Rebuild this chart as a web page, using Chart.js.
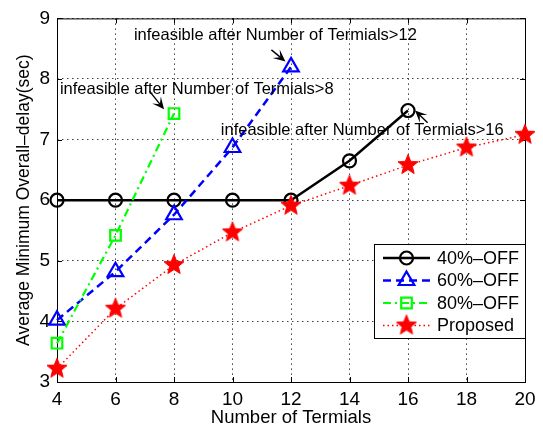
<!DOCTYPE html>
<html>
<head>
<meta charset="utf-8">
<script src="https://cdn.jsdelivr.net/npm/chart.js@4.4.0/dist/chart.umd.min.js"></script>
<style>
  html, body { margin: 0; padding: 0; background: #fff; }
</style>
</head>
<body>
<canvas id="delayChart" width="543" height="430"></canvas>
<script>
// number of terminals on the x axis
const terminals = [4, 6, 8, 10, 12, 14, 16, 18, 20];

// average minimum overall delay (sec) per scheme
const off40 = [6, 6, 6, 6, 6, 6.65, 7.48];
const off60 = [4.02, 4.82, 5.76, 6.87, 8.2];
const off80 = [3.64, 5.42, 7.43];
const proposed = [3.22, 4.21, 4.93, 5.47, 5.91, 6.24, 6.58, 6.87, 7.08];

const seriesNames = ['40%–OFF', '60%–OFF', '80%–OFF', 'Proposed'];
const xTicks = [4, 6, 8, 10, 12, 14, 16, 18, 20];
const yTicks = [3, 4, 5, 6, 7, 8, 9];

// text notes: text anchor + arrow tail/head, all in data units
const notes = [
  { text: 'infeasible after Number of Termials>12', x: 6.63, y: 8.65, from: [11.33, 8.48], to: [11.81, 8.29] },
  { text: 'infeasible after Number of Termials>8', x: 4.10, y: 7.76, from: [7.16, 7.80], to: [7.66, 7.50] },
  { text: 'infeasible after Number of Termials>16', x: 9.60, y: 7.08, from: [16.67, 7.28], to: [16.24, 7.48] }
];

const FONT = '"Liberation Sans", Arial, Helvetica, sans-serif';

function makeStar(outer, inner, color) {
  const c = document.createElement('canvas');
  const s = Math.ceil(outer * 2 + 3);
  c.width = s; c.height = s;
  const g = c.getContext('2d');
  g.translate(s / 2, s / 2);
  g.beginPath();
  for (let i = 0; i < 10; i++) {
    const r = i % 2 ? inner : outer;
    const a = -Math.PI / 2 + i * Math.PI / 5;
    g.lineTo(r * Math.cos(a), r * Math.sin(a));
  }
  g.closePath();
  g.fillStyle = color;
  g.fill();
  g.strokeStyle = color;
  g.lineWidth = 1;
  g.stroke();
  return c;
}

const redStar = makeStar(10.5, 4.6, '#ff0000');

function points(ys) {
  return ys.map((y, i) => ({ x: terminals[i], y: y }));
}

const datasets = [
  {
    label: seriesNames[0], data: points(off40),
    borderColor: '#000000', borderWidth: 2.5, borderDash: [],
    pointStyle: 'circle', pointRadius: 6.5, pointBorderWidth: 2.2,
    pointBorderColor: '#000000', pointBackgroundColor: 'rgba(0,0,0,0)', order: 3
  },
  {
    label: seriesNames[1], data: points(off60),
    borderColor: '#0000ff', borderWidth: 2.5, borderDash: [8, 5],
    pointStyle: 'triangle', pointRadius: 9, pointBorderWidth: 2.2,
    pointBorderColor: '#0000ff', pointBackgroundColor: 'rgba(0,0,0,0)', order: 2
  },
  {
    label: seriesNames[2], data: points(off80),
    borderColor: '#00ff00', borderWidth: 2.2, borderDash: [8, 4, 2, 4],
    pointStyle: 'rect', pointRadius: 7.5, pointBorderWidth: 2.2,
    pointBorderColor: '#00ff00', pointBackgroundColor: 'rgba(0,0,0,0)', order: 1
  },
  {
    label: seriesNames[3], data: points(proposed),
    borderColor: '#ff0000', borderWidth: 1.5, borderDash: [1.5, 3],
    pointStyle: redStar, pointRadius: 10,
    pointBorderColor: '#ff0000', pointBackgroundColor: '#ff0000', order: 0
  }
];
datasets.forEach(d => { d.clip = false; d.tension = 0; d.fill = false; });

// axes box with inward tick marks, under the data
const framePlugin = {
  id: 'frame',
  beforeDatasetsDraw(chart) {
    const { ctx, chartArea: a, scales } = chart;
    ctx.save();
    ctx.strokeStyle = '#000';
    ctx.lineWidth = 1;
    ctx.strokeRect(a.left + 0.5, a.top + 0.5, a.right - a.left, a.bottom - a.top);
    ctx.beginPath();
    xTicks.forEach(v => {
      const px = Math.round(scales.x.getPixelForValue(v)) + 0.5;
      ctx.moveTo(px, a.bottom); ctx.lineTo(px, a.bottom - 5);
      ctx.moveTo(px, a.top); ctx.lineTo(px, a.top + 5);
    });
    yTicks.forEach(v => {
      const py = Math.round(scales.y.getPixelForValue(v)) + 0.5;
      ctx.moveTo(a.left, py); ctx.lineTo(a.left + 5, py);
      ctx.moveTo(a.right, py); ctx.lineTo(a.right - 5, py);
    });
    ctx.stroke();
    ctx.restore();
  }
};

function drawArrow(ctx, x1, y1, x2, y2) {
  const a = Math.atan2(y2 - y1, x2 - x1);
  const c = Math.cos(a), s = Math.sin(a);
  const L = 12, W = 5.5;
  ctx.beginPath();
  ctx.moveTo(x1, y1);
  ctx.lineTo(x2 - c * L * 0.5, y2 - s * L * 0.5);
  ctx.stroke();
  ctx.beginPath();
  ctx.moveTo(x2, y2);
  ctx.lineTo(x2 - L * c + W * s, y2 - L * s - W * c);
  ctx.lineTo(x2 - 0.55 * L * c, y2 - 0.55 * L * s);
  ctx.lineTo(x2 - L * c - W * s, y2 - L * s + W * c);
  ctx.closePath();
  ctx.fill();
}

// text notes with arrows pointing at the last feasible points
const notesPlugin = {
  id: 'notes',
  afterDatasetsDraw(chart) {
    const { ctx, scales } = chart;
    ctx.save();
    ctx.fillStyle = '#000';
    ctx.strokeStyle = '#000';
    ctx.lineWidth = 1.4;
    ctx.font = '16.5px ' + FONT;
    ctx.textBaseline = 'alphabetic';
    ctx.textAlign = 'left';
    notes.forEach(n => {
      ctx.fillText(n.text, scales.x.getPixelForValue(n.x), scales.y.getPixelForValue(n.y));
      drawArrow(ctx,
        scales.x.getPixelForValue(n.from[0]), scales.y.getPixelForValue(n.from[1]),
        scales.x.getPixelForValue(n.to[0]), scales.y.getPixelForValue(n.to[1]));
    });
    ctx.restore();
  }
};

// boxed legend with line + marker samples
const legendPlugin = {
  id: 'boxLegend',
  afterDraw(chart) {
    const { ctx, chartArea: a } = chart;
    const boxW = 151, boxH = 94;
    const left = a.right - boxW, top = 244;
    const rowH = 22.5;
    ctx.save();
    ctx.fillStyle = '#fff';
    ctx.fillRect(left, top, boxW, boxH);
    ctx.strokeStyle = '#000';
    ctx.lineWidth = 1;
    ctx.strokeRect(left + 0.5, top + 0.5, boxW, boxH);
    chart.data.datasets.forEach((d, i) => {
      const y = top + 14 + i * rowH;
      const x0 = left + 9, x1 = left + 56, xm = (x0 + x1) / 2;
      ctx.save();
      ctx.strokeStyle = d.borderColor;
      ctx.lineWidth = d.borderWidth;
      ctx.setLineDash(d.borderDash);
      ctx.beginPath();
      ctx.moveTo(x0, y); ctx.lineTo(x1, y);
      ctx.stroke();
      ctx.restore();
      ctx.save();
      ctx.strokeStyle = d.pointBorderColor;
      ctx.fillStyle = d.pointBackgroundColor;
      ctx.lineWidth = d.pointBorderWidth || 1;
      Chart.helpers.drawPoint(ctx, {
        pointStyle: d.pointStyle, radius: d.pointRadius,
        borderWidth: d.pointBorderWidth || 0, rotation: 0
      }, xm, y);
      ctx.restore();
      ctx.fillStyle = '#000';
      ctx.font = '18px ' + FONT;
      ctx.textBaseline = 'middle';
      ctx.textAlign = 'left';
      ctx.fillText(d.label, left + 63, y + 1);
    });
    ctx.restore();
  }
};

const gridDash = [1.5, 3.5];

new Chart(document.getElementById('delayChart'), {
  type: 'line',
  data: { datasets: datasets },
  plugins: [framePlugin, notesPlugin, legendPlugin],
  options: {
    responsive: false,
    animation: false,
    events: [],
    layout: { padding: { top: 14, right: 18, left: 0, bottom: 0 } },
    plugins: { legend: { display: false }, tooltip: { enabled: false } },
    scales: {
      x: {
        type: 'linear', min: 4, max: 20,
        afterBuildTicks: s => { s.ticks = xTicks.map(v => ({ value: v })); },
        afterFit: s => { s.height = 48; },
        grid: { color: 'rgba(0,0,0,0.75)', lineWidth: 1, drawTicks: false },
        border: { display: false, dash: gridDash },
        ticks: { color: '#000', padding: 6, maxRotation: 0, font: { family: FONT, size: 19 } },
        title: {
          display: true, text: 'Number of Termials', color: '#000',
          font: { family: FONT, size: 18.5 }, padding: { top: 0, bottom: 1 }
        }
      },
      y: {
        type: 'linear', min: 3, max: 9,
        afterBuildTicks: s => { s.ticks = yTicks.map(v => ({ value: v })); },
        afterFit: s => { s.width = 57; },
        grid: { color: 'rgba(0,0,0,0.75)', lineWidth: 1, drawTicks: false },
        border: { display: false, dash: gridDash },
        ticks: { color: '#000', padding: 7, font: { family: FONT, size: 19 } },
        title: {
          display: true, text: 'Average Minimum Overall–delay(sec)', color: '#000',
          font: { family: FONT, size: 17.5 }, padding: { top: 14, bottom: 0 }
        }
      }
    }
  }
});
</script>
</body>
</html>
